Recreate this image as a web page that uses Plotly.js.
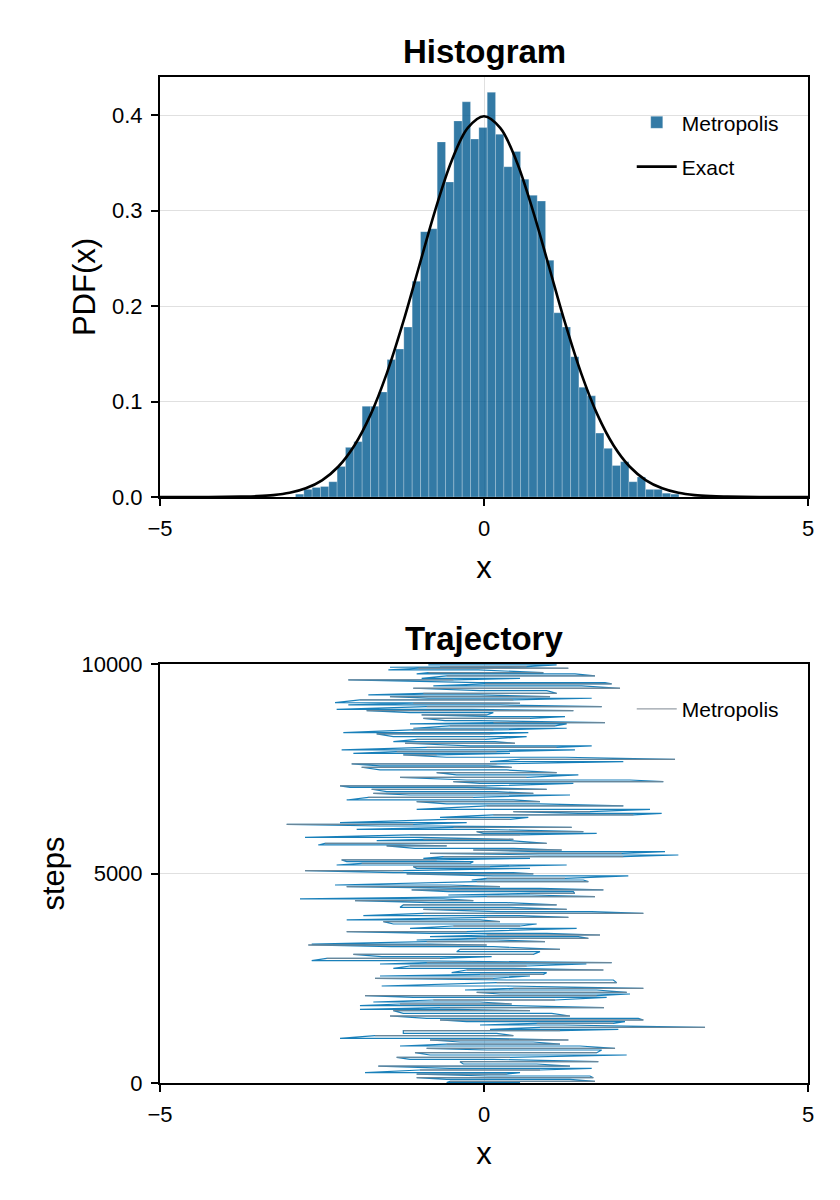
<!DOCTYPE html>
<html>
<head>
<meta charset="utf-8">
<script src="https://cdn.plot.ly/plotly-3.0.1.min.js"></script>
<style>body{margin:0;background:#fff}</style>
</head>
<body>
<div id="chart" style="width:840px;height:1200px"></div>
<script>
// Histogram of the Metropolis samples (bin centres / density)
var bin_centers = [-2.845, -2.716, -2.588, -2.459, -2.330, -2.202, -2.073, -1.944, -1.816, -1.687,
                   -1.559, -1.430, -1.301, -1.173, -1.044, -0.915, -0.787, -0.658, -0.530, -0.401,
                   -0.272, -0.144, -0.015, 0.114, 0.242, 0.371, 0.500, 0.628, 0.757, 0.886,
                   1.014, 1.143, 1.271, 1.400, 1.529, 1.657, 1.786, 1.915, 2.043, 2.172,
                   2.300, 2.429, 2.558, 2.686, 2.815, 2.944];
var bin_density = [0.003, 0.008, 0.010, 0.011, 0.016, 0.032, 0.052, 0.058, 0.095, 0.095,
                   0.110, 0.144, 0.155, 0.178, 0.226, 0.278, 0.281, 0.372, 0.330, 0.394,
                   0.414, 0.375, 0.387, 0.424, 0.380, 0.346, 0.362, 0.333, 0.316, 0.310,
                   0.248, 0.193, 0.178, 0.147, 0.115, 0.106, 0.067, 0.051, 0.033, 0.037,
                   0.016, 0.021, 0.008, 0.008, 0.004, 0.003];

// Exact curve, read at quarter steps
var exact_x = [-5, -4.75, -4.5, -4.25, -4, -3.75, -3.5, -3.25, -3, -2.75, -2.5, -2.25, -2, -1.75,
               -1.5, -1.25, -1, -0.75, -0.5, -0.25, 0, 0.25, 0.5, 0.75, 1, 1.25, 1.5, 1.75,
               2, 2.25, 2.5, 2.75, 3, 3.25, 3.5, 3.75, 4, 4.25, 4.5, 4.75, 5];
var exact_pdf = [0.0000, 0.0000, 0.0000, 0.0000, 0.0001, 0.0004, 0.0009, 0.0020, 0.0044, 0.0091,
                 0.0175, 0.0317, 0.0540, 0.0863, 0.1295, 0.1826, 0.2420, 0.3011, 0.3521, 0.3867,
                 0.3989, 0.3867, 0.3521, 0.3011, 0.2420, 0.1826, 0.1295, 0.0863, 0.0540, 0.0317,
                 0.0175, 0.0091, 0.0044, 0.0020, 0.0009, 0.0004, 0.0001, 0.0000, 0.0000, 0.0000, 0.0000];

// Trajectory: each visible stroke = step and the two x ends it spans
var traj_steps = [9978, 9938, 9922, 9898, 9858, 9795, 9763, 9715, 9659, 9620, 9556, 9524, 9476, 9421,
  9365, 9301, 9262, 9222, 9182, 9142, 9079, 9063, 9023, 8983, 8919, 8888, 8840, 8784, 8744, 8704,
  8649, 8601, 8569, 8522, 8466, 8426, 8362, 8331, 8267, 8203, 8148, 8108, 8044, 8012, 7949, 7909,
  7869, 7829, 7774, 7726, 7670, 7614, 7567, 7535, 7471, 7408, 7352, 7296, 7232, 7193, 7153, 7089,
  7057, 7010, 6954, 6914, 6874, 6819, 6755, 6715, 6660,
  6612, 6532, 6477, 6437, 6397, 6341, 6293, 6214, 6174, 6134, 6103, 6055, 5999, 5959, 5920, 5864,
  5816, 5784, 5721, 5681, 5657, 5601, 5561, 5522, 5482, 5442, 5402, 5362, 5323, 5283, 5243, 5203,
  5164, 5124, 5068, 5020, 4989, 4941, 4885, 4845, 4806, 4726, 4686, 4646, 4607, 4567, 4527, 4487,
  4447, 4392, 4352, 4304, 4249, 4193, 4145, 4089, 4050, 3994, 3954, 3891, 3851, 3795, 3747, 3692,
  3612, 3572, 3532, 3493, 3453, 3413, 3373, 3318,
  3294, 3254, 3190, 3135, 3071, 3015, 2975, 2920, 2872, 2840, 2792, 2737, 2697, 2633, 2593, 2554,
  2498, 2458, 2395, 2315, 2259, 2219, 2164, 2124, 2084, 2044, 1981, 1933, 1885, 1845, 1798, 1758,
  1726, 1663, 1599, 1543, 1503, 1464, 1424, 1384, 1328, 1281, 1249, 1185, 1129, 1066, 1026, 978,
  930, 883, 827, 787, 724, 668, 612, 564, 509, 453, 405, 350, 310, 246, 214, 167, 127, 87, 40, 8];
var traj_left = [-0.859, -0.679, -1.451, -1.013, -1.476, -0.859, -1.039, -0.576, -0.962, -2.094, -0.087, 0.015, -0.782, -1.091,
  -0.062, -0.936, -1.785, -1.451, -0.859, -1.914, -2.299, -1.091, -2.094, -0.885, -2.274, -1.811, -1.142, -0.962, 0.144, -0.936,
  -0.602, 0.144, -1.142, -0.525, -1.091, -1.116, -2.171, -1.656, -1.399, -1.039, -1.399, -1.219, -0.216, -0.885, -2.197, -1.348,
  -2.016, -1.245, -0.576, 0.556, 0.093, -2.042, -1.605, -1.888, -1.605, -0.730, -0.422, -1.296, -0.267, -0.473, -0.062, -2.222,
  -2.068, -1.734, -1.502, -1.708, -1.142, -1.785, -2.119, -1.039, -0.576,
  0.041, -1.039, 0.453, 1.456, 0.144, -0.679, -0.576, -2.222, -3.045, -1.605, -0.473, -1.965, -0.113, -0.010, -1.142, -2.762,
  -0.936, -1.656, -2.454, -2.557, -1.502, -1.065, -0.165, 0.838, -0.833, 0.864, -0.628, -0.936, -2.197, -2.119, -1.888, -2.274,
  -1.091, -1.039, -2.762, -1.399, -1.193, 0.144, 0.041, -0.190, -0.113, -2.299, -2.119, -0.345, -1.116, -0.550, 0.710, -0.550,
  0.041, -2.840, -1.991, -0.833, -1.245, -1.296, -0.936, 0.195, -0.936, -1.862, 0.041, -2.119, -1.553, -1.399, -0.473, -1.142,
  -2.119, -0.833, 0.041, -0.833, -0.113, -1.039, -0.885, -2.659,
  -2.711, -1.425, -0.370, -0.422, -2.016, -1.579, -2.428, -2.659, -0.885, -1.605, -1.142, -1.399, -0.267, -0.499, -0.062, -1.605,
  -1.682, 0.350, 0.195, -1.579, 0.453, -0.293, -0.113, 0.247, -1.836, -1.091, -0.782, -1.708, -1.296, -1.914, -0.679, -1.914,
  -1.399, -1.245, -1.451, -0.885, -0.679, -0.267, 0.813, -0.062, 0.864, 0.093, -1.245, -1.245, -1.682, -2.222, -0.833, -0.370,
  -0.576, -1.296, -0.885, 0.041, -1.065, -0.833, -1.348, -1.142, -0.370, -0.319, -1.631, -0.525, -0.988, -1.836, -1.039, 0.067, -1.039, -0.576, -0.525, -0.576];
var traj_right = [1.121, 0.658, -0.473, 1.301, -0.087, 0.916, 1.404, 1.713, 0.556, -0.473, 1.867, 1.970, 1.507, 2.099,
  0.967, 1.121, -0.062, 1.019, 1.662, 0.453, -0.988, 0.556, 0.247, 1.816, -0.190, 1.379, 0.144, 0.041, 1.250, 0.710,
  -0.062, 1.867, 1.276, 1.096, 1.276, 0.144, 0.684, 0.093, 0.658, 0.015, 0.170, 0.478, 1.662, 1.121, 1.404, 0.195,
  0.401, -0.730, 1.250, 2.948, 2.150, 0.195, 0.067, 0.427, 0.350, 1.121, 1.456, 0.658, 2.253, 2.767, 1.379, 0.041,
  -0.267, 0.967, 0.195, 0.761, 1.327, -0.165, 0.453, 0.864, 0.864,
  2.150, 2.562, 1.636, 2.742, 2.305, 0.684, 0.401, -0.267, -1.091, -0.730, 1.353, -0.062, 1.533, 1.739, 0.556, -0.988,
  0.453, 0.401, 0.967, -1.296, -0.576, 0.453, 1.199, 2.793, 2.125, 2.999, 2.150, 0.710, -0.730, -0.165, -0.216, 1.276,
  0.093, 0.710, -1.245, 0.453, 0.761, 2.227, 1.250, 1.533, 1.610, -0.525, 0.247, 0.864, 1.842, 1.379, 1.399, 0.736,
  1.713, -0.628, -0.165, 0.350, 1.121, 0.401, 1.276, 1.662, 2.459, 0.556, 1.302, -0.062, 0.247, 0.813, 0.556, 1.430,
  -0.267, 0.967, 1.790, 1.456, 1.610, 0.195, 0.941, -0.833,
  0.041, 0.144, 1.173, 0.864, 0.761, 0.118, -0.679, -1.399, 1.970, 1.580, 0.658, 0.453, 1.842, 0.967, 0.916, 0.710,
  0.144, 1.996, 2.047, 0.350, 2.459, 1.739, 2.202, 2.253, 1.739, 1.893, 1.096, -0.062, 0.427, 0.453, 1.852, -0.473,
  0.710, 1.044, 1.327, 2.382, 2.459, 2.176, 1.996, 1.224, 3.411, 2.073, 1.173, 0.195, 0.453, 0.041, 1.302, 0.761,
  1.173, 1.482, 2.022, 1.816, 1.739, 2.202, 0.401, 0.144, 1.764, 0.813, 1.327, 1.662, 0.864, 0.556, 0.350, 1.636, 1.687, 1.327, 1.713, 0.556];

// blue: the chain as one continuous zigzag; grey: every other stroke drawn over it
var chain_x = [], chain_y = [], grey_x = [], grey_y = [];
for (var k = 0; k < traj_steps.length; k++) {
    var a = traj_left[k], b = traj_right[k];
    if (k % 2 == 1) { var t = a; a = b; b = t; }
    chain_x.push(a, b);
    chain_y.push(traj_steps[k], traj_steps[k]);
    if (k % 2 == 1) {
        grey_x.push(traj_left[k], traj_right[k], null);
        grey_y.push(traj_steps[k], traj_steps[k], null);
    }
}

var font_name = 'Liberation Sans, Arial, sans-serif';

var data = [
    {
        type: 'bar', x: bin_centers, y: bin_density, width: 0.1286,
        name: 'Metropolis', xaxis: 'x', yaxis: 'y', legend: 'legend', legendgroup: 'h',
        marker: {color: 'rgba(0,89,143,0.8)', line: {color: 'rgba(255,255,255,0.35)', width: 0.7}}
    },
    {
        type: 'scatter', mode: 'lines', x: exact_x, y: exact_pdf,
        name: 'Exact', xaxis: 'x', yaxis: 'y', legend: 'legend', legendgroup: 'e',
        line: {color: 'black', width: 2.6, shape: 'spline'}
    },
    {
        type: 'scatter', mode: 'lines', x: chain_x, y: chain_y,
        showlegend: false, xaxis: 'x2', yaxis: 'y2',
        line: {color: 'rgba(0,114,178,0.9)', width: 1.2}
    },
    {
        type: 'scatter', mode: 'lines', x: grey_x, y: grey_y, connectgaps: false,
        name: 'Metropolis', xaxis: 'x2', yaxis: 'y2', legend: 'legend2',
        line: {color: 'rgba(125,135,145,0.8)', width: 1.3}
    }
];

function axis_style(extra) {
    var ax = {
        showline: true, mirror: true, linecolor: 'black', linewidth: 2,
        ticks: 'outside', ticklen: 7, tickwidth: 2, tickcolor: 'black',
        ticklabelstandoff: 4,
        showgrid: true, gridcolor: 'rgba(0,0,0,0.12)', gridwidth: 1,
        zeroline: false, tickfont: {family: font_name, size: 22, color: 'black'}
    };
    for (var key in extra) ax[key] = extra[key];
    return ax;
}

var title_font = {family: font_name, size: 31, color: 'black'};

var layout = {
    width: 840, height: 1200,
    margin: {l: 160, r: 32, t: 77, b: 117},
    paper_bgcolor: 'white', plot_bgcolor: 'white',
    font: {family: font_name, color: 'black'},
    xaxis: axis_style({domain: [0, 1], anchor: 'y', range: [-5, 5], tickvals: [-5, 0, 5],
        title: {text: 'x', font: title_font, standoff: 16}}),
    yaxis: axis_style({domain: [0.5825, 1], anchor: 'x', range: [0, 0.44],
        tickvals: [0, 0.1, 0.2, 0.3, 0.4], tickformat: '.1f',
        title: {text: 'PDF(x)', font: title_font, standoff: 7}}),
    xaxis2: axis_style({domain: [0, 1], anchor: 'y2', range: [-5, 5], tickvals: [-5, 0, 5],
        title: {text: 'x', font: title_font, standoff: 16}}),
    yaxis2: axis_style({domain: [0, 0.4165], anchor: 'x2', range: [0, 10000],
        tickvals: [0, 5000, 10000], tickformat: 'd',
        title: {text: 'steps', font: title_font, standoff: 8}}),
    legend: {x: 0.728, y: 0.975, xanchor: 'left', yanchor: 'top', bgcolor: 'rgba(0,0,0,0)',
        font: {family: font_name, size: 21}, itemwidth: 40, tracegroupgap: 14},
    legend2: {x: 0.728, y: 0.392, xanchor: 'left', yanchor: 'top', bgcolor: 'rgba(0,0,0,0)',
        font: {family: font_name, size: 21}, itemwidth: 40},
    annotations: [
        {text: '<b>Histogram</b>', xref: 'paper', yref: 'paper', x: 0.5, y: 1.0249,
         xanchor: 'center', yanchor: 'middle', showarrow: false,
         font: {family: font_name, size: 33, color: 'black'}},
        {text: '<b>Trajectory</b>', xref: 'paper', yref: 'paper', x: 0.5, y: 0.4423,
         xanchor: 'center', yanchor: 'middle', showarrow: false,
         font: {family: font_name, size: 33, color: 'black'}}
    ]
};

Plotly.newPlot('chart', data, layout, {displayModeBar: false, staticPlot: true});
</script>
</body>
</html>
